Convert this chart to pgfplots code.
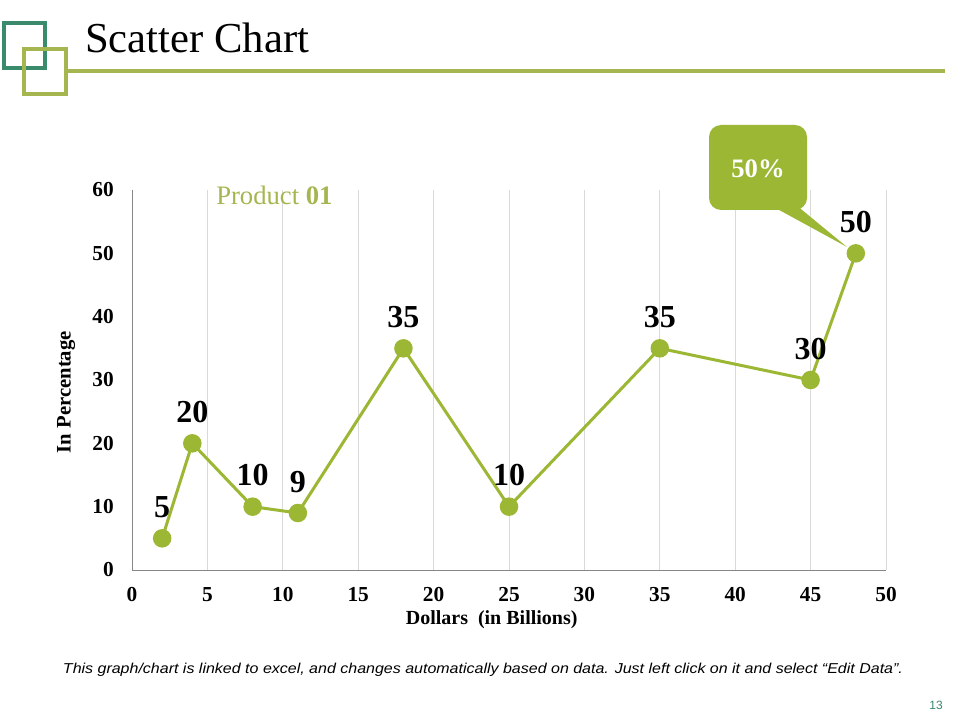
\documentclass[border=0pt]{standalone}
\usepackage{fontspec}
\setmainfont{Liberation Serif}
\newfontfamily\footfont{Liberation Sans}
\usepackage{pgfplots}
\pgfplotsset{compat=1.18}
\definecolor{olive}{RGB}{155,183,51}
\definecolor{oliveL}{RGB}{165,182,80}
\definecolor{teal2}{RGB}{58,138,108}
\definecolor{gridgray}{RGB}{217,217,217}
\definecolor{axgray}{RGB}{134,134,134}
\begin{document}
\begin{tikzpicture}
\begin{scope}[x=0.75pt,y=-0.75pt]
\useasboundingbox[fill=white] (0,0) rectangle (960,720);
\draw[teal2, line width=2.4pt] (4,23) rectangle (45,68);
\draw[oliveL, line width=2.4pt] (24,49) rectangle (66,94);
\draw[oliveL, line width=2.4pt] (66,71) -- (945,71);
\node[anchor=base west, font=\fontsize{32}{36}\selectfont, inner sep=0] at (85,53) {Scatter Chart};
\end{scope}
\begin{axis}[
  at={(99pt,-427.5pt)}, anchor=origin,
  scale only axis, width=565.5pt, height=285pt,
  xmin=0, xmax=50, ymin=0, ymax=60,
  xtick={0,5,...,50}, ytick={0,10,...,60},
  axis lines=left,
  axis line style={-, axgray, line width=0.75pt},
  major tick length=0pt,
  xmajorgrids, grid style={gridgray, line width=0.6pt},
  /pgf/number format/assume math mode=true,
  ticklabel style={font=\fontsize{16}{18}\selectfont\bfseries},
  xticklabel style={anchor=center, yshift=-18.5pt},
  yticklabel style={anchor=east, inner sep=0pt, xshift=-13.5pt},
  xlabel={Dollars\ \ (in Billions)},
  ylabel={In Percentage},
  xlabel style={font=\fontsize{15}{17}\selectfont\bfseries, at={(axis description cs:0.477,-0.1316)}, anchor=center},
  ylabel style={font=\fontsize{15.5}{17}\selectfont\bfseries, at={(axis description cs:-0.0875,0.468)}, anchor=center},
  clip=false,
]
\addplot[olive, line width=2.25pt, mark=*, mark size=5.8pt,
  mark options={fill=olive, draw=olive, solid},
  nodes near coords,
  nodes near coords style={font=\fontsize{24}{28}\selectfont\bfseries, black, anchor=center, yshift=23.5pt}]
  coordinates {(2,5) (4,20) (8,10) (11,9) (18,35) (25,10) (35,35) (45,30) (48,50)};
\end{axis}
\begin{scope}[x=0.75pt,y=-0.75pt]
\node[anchor=west, inner sep=0, text=oliveL, font=\fontsize{20}{24}\selectfont] at (216,195) {Product \textbf{01}};
\fill[olive] (770,205) -- (796,205) -- (847,247) -- cycle;
\fill[olive, rounded corners=9pt] (709,125) rectangle (807,210);
\node[text=white, font=\fontsize{20}{24}\selectfont\bfseries] at (758,169) {50\%};
\node[anchor=base, inner sep=0] at (483,673) {\resizebox{630pt}{7.8pt}{\footfont\itshape This graph/chart is linked to excel, and changes automatically based on data. Just left click on it and select “Edit Data”.}};
\node[text=teal2, font=\footfont\fontsize{9}{10}\selectfont] at (936,705) {13};
\end{scope}
\end{tikzpicture}
\end{document}
